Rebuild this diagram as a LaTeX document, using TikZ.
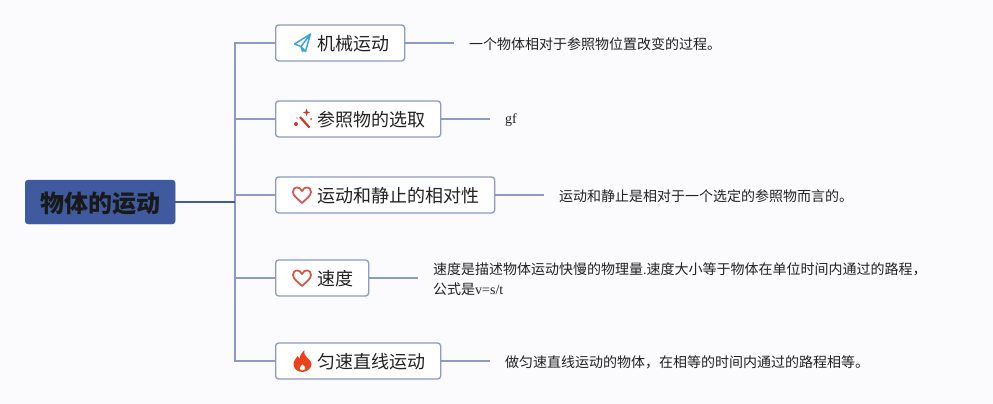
\documentclass[tikz,border=0pt]{standalone}
\usepackage{fontspec}
\setmainfont{Noto Sans CJK SC}
\newfontfamily\latf{Liberation Serif}
\definecolor{bgc}{HTML}{FBFBFD}
\definecolor{linec}{HTML}{8D9BC4}
\definecolor{rootc}{HTML}{3F5A9E}
\definecolor{txtc}{HTML}{222222}
\definecolor{planec}{HTML}{3FA5D8}
\definecolor{heartc}{HTML}{CF5A4E}
\definecolor{flamec}{HTML}{F0401A}
\definecolor{wandc}{HTML}{D0392B}
\tikzset{
  topicbox/.style={draw=linec,line width=1.3pt,fill=white,rounded corners=3pt,anchor=west,
    minimum height=36pt,inner xsep=15pt,inner ysep=0pt,text=txtc,text height=18pt,text depth=2.4pt,
    font=\fontsize{18}{22}\selectfont},
  rootbox/.style={fill=rootc,draw=rootc,rounded corners=3pt,anchor=west,minimum height=44pt,
    minimum width=150pt,inner sep=0pt,text=black!90,text height=24pt,text depth=3.8pt,
    font=\fontsize{24}{28}\selectfont\bfseries},
  desc/.style={anchor=west,inner xsep=15pt,inner ysep=0pt,text=txtc,
    font=\fontsize{14}{20}\selectfont},
  descone/.style={desc,text height=15pt,text depth=2.4pt},
  conn/.style={draw=linec,line width=1.2pt},
  rootconn/.style={draw=rootc,line width=1.6pt},
  heartic/.pic={\draw[heartc,line width=1.8pt,line join=round]
    (0,8) .. controls (-4,4) and (-9,1) .. (-9,-3) .. controls (-9,-9) and (-2,-9) .. (0,-4)
    .. controls (2,-9) and (9,-9) .. (9,-3) .. controls (9,1) and (4,4) .. (0,8) -- cycle;},
  planeic/.pic={\draw[planec,line width=1.5pt,line join=round]
    (8,-9) -- (-8,1) -- (-1.5,3.5) -- (8,-9) -- (3,8.5) -- (-1.5,3.5) -- (0,8.5) -- (1.5,6.5);},
  wandic/.pic={\draw[wandc,line width=2.2pt] (-3,-2) -- (6.5,8.5);
    \fill[wandc] (-7,5) circle (2pt) (8,0) circle (1pt) (-6,-1) circle (.6pt)
      (3.5,-10.5) -- (4.5,-7.5) -- (7,-6.5) -- (4.5,-5.5) -- (3.5,-3) -- (2.5,-5.5) -- (0,-6.5) -- (2.5,-7.5) -- cycle;},
  flameic/.pic={\fill[flamec,even odd rule]
    (0,11) .. controls (-6,11) and (-9,7) .. (-9,3) .. controls (-9,-1) and (-6,-2) .. (-5,-5)
    .. controls (-4,-3) and (-3,-3) .. (-3,-2) .. controls (-3,-5) and (-1,-8) .. (2,-11)
    .. controls (1,-7) and (3,-5) .. (5,-3) .. controls (7,-1) and (9,1) .. (9,3)
    .. controls (9,7) and (5,11) .. (0,11) -- cycle
    (0,9.5) .. controls (2,9.5) and (3,8) .. (3,7) .. controls (3,5.5) and (1,4.5) .. (0,3)
    .. controls (-1,5) and (-3,5.5) .. (-3,7) .. controls (-3,8) and (-2,9.5) .. (0,9.5) -- cycle;}
}
\begin{document}
\begin{tikzpicture}[x=1pt,y=-1pt]
\useasboundingbox (0,0) rectangle (993,404);
\fill[bgc] (0,0) rectangle (993,404);
\node[rootbox] (root) at (25,202) {物体的运动};
\coordinate (trunk) at (235,202);
\node[topicbox] (t1) at (275,43) {\kern27pt机械运动};
\node[topicbox] (t2) at (275,119) {\kern27pt参照物的选取};
\node[topicbox] (t3) at (275,195) {\kern27pt运动和静止的相对性};
\node[topicbox] (t4) at (275,278) {\kern27pt速度};
\node[topicbox] (t5) at (275,361) {\kern27pt匀速直线运动};
\node[descone] (d1) at (454,43) {一个物体相对于参照物位置改变的过程。};
\node[desc,text height=11pt,text depth=3pt] (d2) at (490,119) {\latf gf};
\node[descone] (d3) at (544,195) {运动和静止是相对于一个选定的参照物而言的。};
\node[desc,align=left] (d4) at (418,279.5) {速度是描述物体运动快慢的物理量{\latf .}速度大小等于物体在单位时间内通过的路程，\\公式是{\latf v=s/t}};
\node[descone] (d5) at (490,361) {做匀速直线运动的物体，在相等的时间内通过的路程相等。};
\foreach \n in {1,...,5} {\draw[conn] (trunk) |- (t\n.west);}
\draw[rootconn] (root.east) -- (trunk);
\draw[conn] (t1.east) -- (d1.west);
\draw[conn] (t2.east) -- (d2.west);
\draw[conn] (t3.east) -- (d3.west);
\draw[conn] (t4.east) -- (t4.east -| d4.west);
\draw[conn] (t5.east) -- (d5.west);
\pic at (302.5,43) {planeic};
\pic at (303,119) {wandic};
\pic at (302,195) {heartic};
\pic at (302,278) {heartic};
\pic at (302.5,361) {flameic};
\end{tikzpicture}
\end{document}
